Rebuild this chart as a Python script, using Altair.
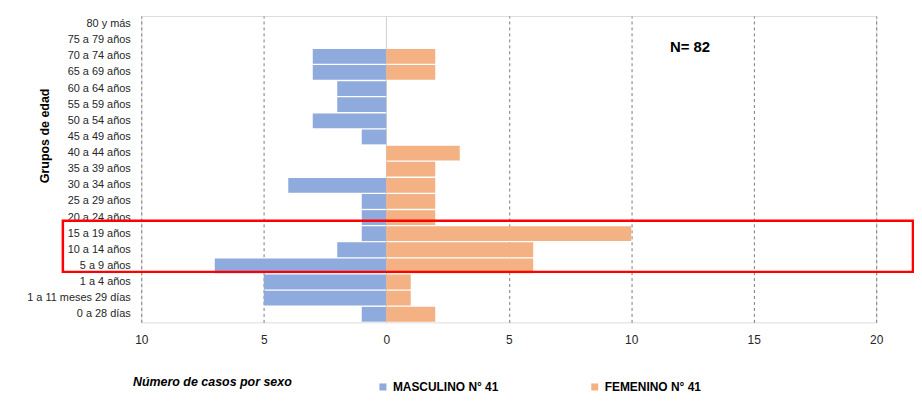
import altair as alt
import pandas as pd

categories = ["80 y más", "75 a 79 años", "70 a 74 años", "65 a 69 años", "60 a 64 años",
              "55 a 59 años", "50 a 54 años", "45 a 49 años", "40 a 44 años", "35 a 39 años",
              "30 a 34 años", "25 a 29 años", "20 a 24 años", "15 a 19 años", "10 a 14 años",
              "5 a 9 años", "1 a 4 años", "1 a 11 meses 29 días", "0 a 28 días"]
masculino = [0, 0, 3, 3, 2, 2, 3, 1, 0, 0, 4, 1, 1, 1, 2, 7, 5, 5, 1]
femenino = [0, 0, 2, 2, 0, 0, 0, 0, 3, 2, 2, 2, 2, 10, 6, 6, 1, 1, 2]
series = ["MASCULINO N° 41", "FEMENINO N° 41"]
colors = ["#8FAADC", "#F4B183"]
x_ticks = [-10, -5, 0, 5, 10, 15, 20]

rows = []
for c, m, f in zip(categories, masculino, femenino):
    rows.append({"grupo": c, "sexo": series[0], "valor": -m})
    rows.append({"grupo": c, "sexo": series[1], "valor": f})
df = pd.DataFrame(rows)

FONT = "Liberation Sans"

yscale = alt.Scale(domain=categories, paddingInner=0.08, paddingOuter=0.04)
xscale = alt.Scale(domain=[-10, 20], nice=False, zero=False)

bars = alt.Chart(df).mark_bar().encode(
    x=alt.X("valor:Q", scale=xscale,
            axis=alt.Axis(values=x_ticks, labelExpr="abs(datum.value)", domain=False, ticks=False,
                          labelFlush=False,
                          labelFont=FONT, labelFontSize=12, labelColor="#262626", labelPadding=12,
                          grid=True,
                          gridColor={"condition": {"test": "datum.value === 0", "value": "#d0d0d0"}, "value": "#7a7a7a"},
                          gridDash={"condition": {"test": "datum.value === 0", "value": []}, "value": [3, 3]},
                          gridWidth=1,
                          title="Número de casos por sexo", titleFont=FONT, titleFontSize=12.5,
                          titleFontStyle="italic", titleFontWeight="bold", titleColor="#000000",
                          titleX=71, titleY=60, titleAlign="center", titleBaseline="middle")),
    y=alt.Y("grupo:N", scale=yscale, sort=categories,
            axis=alt.Axis(domain=False, ticks=False, grid=False, labelFont=FONT, labelFontSize=11,
                          labelColor="#262626", labelPadding=11,
                          title="Grupos de edad", titleFont=FONT, titleFontSize=12.5, titleFontWeight="bold",
                          titleColor="#000000", titleX=-97, titleY=120, titleAngle=-90,
                          titleAlign="center", titleBaseline="middle")),
    color=alt.Color("sexo:N", scale=alt.Scale(domain=series, range=colors),
                    legend=alt.Legend(title=None, orient="none", legendX=237, legendY=367,
                                      direction="horizontal", symbolType="square", symbolSize=50,
                                      symbolStrokeWidth=0, labelFont=FONT, labelFontSize=12,
                                      labelFontWeight="bold", labelColor="#000000", labelOffset=4,
                                      columnPadding=90, gridAlign="all")),
)

box_df = pd.DataFrame({"x1": [-13.2], "x2": [21.5], "y1": ["15 a 19 años"], "y2": ["5 a 9 años"]})
box = alt.Chart(box_df).mark_rect(fill=None, stroke="#FF0000", strokeWidth=2.5, clip=False,
                                  yOffset=-13, y2Offset=6).encode(
    x=alt.X("x1:Q", scale=xscale),
    x2="x2:Q",
    y=alt.Y("y1:N", scale=yscale, sort=categories),
    y2="y2:N",
)

n_df = pd.DataFrame({"x": [12.4], "y": ["75 a 79 años"], "t": ["N= 82"]})
ntext = alt.Chart(n_df).mark_text(font=FONT, fontSize=15, fontWeight="bold", color="#000000", dy=7).encode(
    x=alt.X("x:Q", scale=xscale),
    y=alt.Y("y:N", scale=yscale, sort=categories),
    text="t:N",
)

chart = alt.layer(bars, box, ntext).properties(
    width=739, height=308,
    padding={"left": 134, "top": 7, "right": 38, "bottom": 73},
    autosize="none",
).configure_view(stroke=None).configure(background="white")

chart.save("out.html", embed_options={"renderer": "svg", "actions": False})
